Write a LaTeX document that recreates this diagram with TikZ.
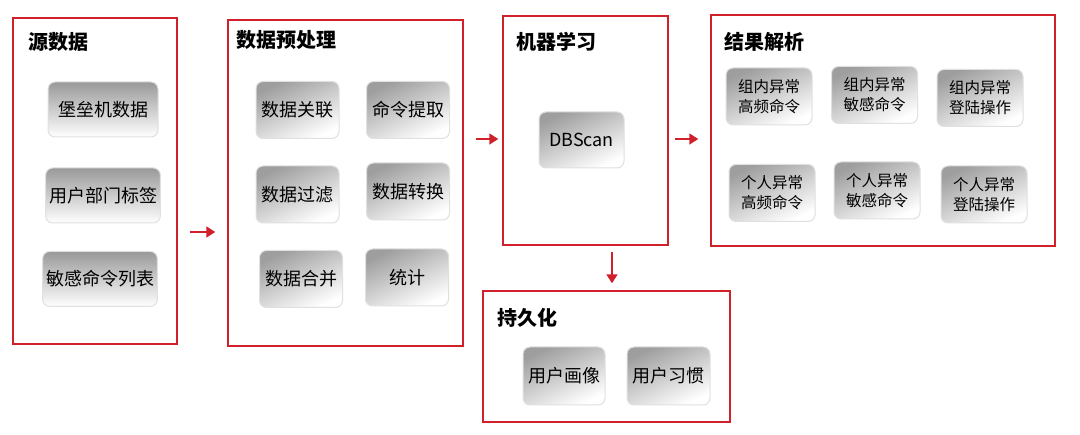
\documentclass[tikz,border=0pt]{standalone}
\usepackage{fontspec}
\setmainfont{Noto Sans CJK SC}
\usetikzlibrary{arrows.meta}

\definecolor{boxred}{RGB}{208,32,42}

\tikzset{
  panel/.style={draw=boxred, line width=1.4pt},
  title/.style={anchor=west, inner sep=0pt, font=\fontsize{20}{24}\selectfont\bfseries},
  cell/.style={rounded corners=7pt, draw=black!12, line width=1pt,
    top color=black!38, bottom color=white, shading angle=25,
    align=center, font=\fontsize{18}{21}\selectfont},
  cellv/.style={cell, top color=black!40, shading angle=0},
  small/.style={font=\fontsize{15.5}{20}\selectfont},
  flow/.style={-{Triangle[length=9pt,width=11pt]}, draw=boxred, line width=1.6pt},
}

\begin{document}
\begin{tikzpicture}[x=1pt, y=-1pt]
\useasboundingbox (0,0) rectangle (1080,435);

% Red frames of the five stages
\foreach \nm/\x/\y/\w/\h in {
  src/95/181/164/326,
  pre/345.5/183/235/326,
  ml/585.5/130.5/165/229,
  res/883/130.5/344/231,
  per/606.5/356.5/247/131} {
  \node [panel, minimum width=\w pt, minimum height=\h pt] (\nm) at (\x,\y) {};
}

% Stage titles
\node [title] (srct) at (28,42) {源数据};
\node [title] (pret) at (236,40) {数据预处理};
\node [title] (mlt) at (516,42) {机器学习};
\node [title] (rest) at (724,42) {结果解析};
\node [title] (pert) at (497,318) {持久化};

% Source data
\foreach \nm/\y/\dx/\txt in {
  bastion/109.5/0/堡垒机数据,
  dept/195.5/0/用户部门标签,
  sens/279/-3/敏感命令列表} {
  \node [cellv, minimum width=110pt, minimum height=55pt] (\nm) at (103+\dx,\y) {\txt};
}

% Preprocessing
\foreach \nm/\x/\y/\txt in {
  assoc/297.5/110/数据关联,
  extract/408/110/命令提取,
  filter/297.5/194.5/数据过滤,
  convert/408/191.5/数据转换,
  merge/301/279/数据合并,
  stats/407/277.5/统计} {
  \node [cell, minimum width=83pt, minimum height=57pt] (\nm) at (\x,\y) {\txt};
}

% Machine learning
\node [cell, minimum width=85pt, minimum height=56pt] (dbscan) at (581.5,140) {DBScan};

% Analysis results
\foreach \nm/\x/\y/\txt in {
  gfreq/769/96.5/{组内异常\\高频命令},
  gsens/874.5/95/{组内异常\\敏感命令},
  glog/980/98/{组内异常\\登陆操作},
  pfreq/772/193/{个人异常\\高频命令},
  psens/877/190.5/{个人异常\\敏感命令},
  plog/984/194.5/{个人异常\\登陆操作}} {
  \node [cell, small, minimum width=86pt, minimum height=57pt] (\nm) at (\x,\y) {\txt};
}

% Persistence
\node [cell, minimum width=82pt, minimum height=58pt] (profile) at (564,376) {用户画像};
\node [cell, minimum width=83pt, minimum height=58pt] (habit) at (668.5,376) {用户习惯};

% Arrows between the stages
\draw [flow, shorten <=12pt, shorten >=12pt] ([yshift=-51pt]src.east) -- ([yshift=-51pt]src.east -| pre.west);
\draw [flow, shorten <=12pt, shorten >=4pt] ([yshift=44pt]pre.east) -- ([yshift=44pt]pre.east -| ml.west);
\draw [flow, shorten <=6pt, shorten >=12pt] ([yshift=-8.5pt]ml.east) -- ([yshift=-8.5pt]ml.east -| res.west);
\draw [flow, shorten <=6pt, shorten >=7pt] ([xshift=26.5pt]ml.south) -- ([xshift=26.5pt]ml.south |- per.north);

\end{tikzpicture}
\end{document}
